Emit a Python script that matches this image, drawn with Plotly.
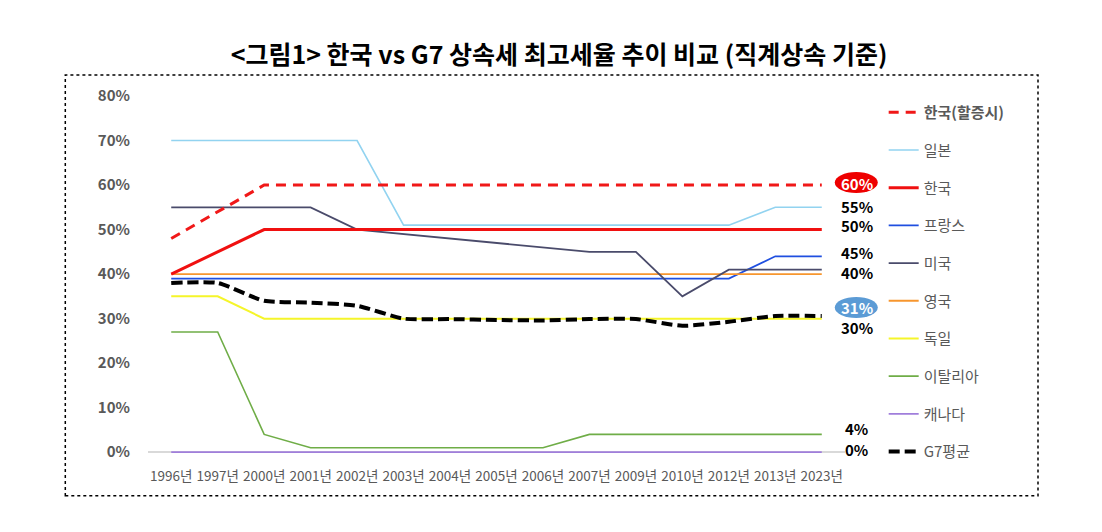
import plotly.graph_objects as go

years = ["1996년", "1997년", "2000년", "2001년", "2002년", "2003년", "2004년", "2005년",
         "2006년", "2007년", "2009년", "2010년", "2012년", "2013년", "2023년"]

korea_surcharge = [48, 54, 60, 60, 60, 60, 60, 60, 60, 60, 60, 60, 60, 60, 60]
japan = [70, 70, 70, 70, 70, 51, 51, 51, 51, 51, 51, 51, 51, 55, 55]
korea = [40, 45, 50, 50, 50, 50, 50, 50, 50, 50, 50, 50, 50, 50, 50]
france = [39, 39, 39, 39, 39, 39, 39, 39, 39, 39, 39, 39, 39, 44, 44]
usa = [55, 55, 55, 55, 50, 49, 48, 47, 46, 45, 45, 35, 41, 41, 41]
uk = [40, 40, 40, 40, 40, 40, 40, 40, 40, 40, 40, 40, 40, 40, 40]
germany = [35, 35, 30, 30, 30, 30, 30, 30, 30, 30, 30, 30, 30, 30, 30]
italy = [27, 27, 4, 1, 1, 1, 1, 1, 1, 4, 4, 4, 4, 4, 4]
canada = [0, 0, 0, 0, 0, 0, 0, 0, 0, 0, 0, 0, 0, 0, 0]
g7_avg = [38.0, 38.0, 34.0, 33.6, 32.9, 30.0, 29.9, 29.7, 29.6, 29.9, 29.9, 28.4, 29.3, 30.6, 30.6]

y_tick_vals = [0, 10, 20, 30, 40, 50, 60, 70, 80]
y_tick_text = ["0%", "10%", "20%", "30%", "40%", "50%", "60%", "70%", "80%"]

end_labels = ["60%", "55%", "50%", "45%", "40%", "31%", "30%", "4%", "0%"]

FONT = "Noto Sans CJK KR"
GRAY = "#595959"

# plot-area geometry (figure pixels)
ML, MR, MT, MB = 140, 265, 88, 86
W, H = 1102, 532
PW, PH = W - ML - MR, H - MT - MB
Y0, Y1 = -0.4, 80


def py(v):
    """paper y of a data value"""
    return (v - Y0) / (Y1 - Y0)


fig = go.Figure()

series = [
    # name, data, color, width, dash, shape, rank
    ("일본", japan, "#92D3F0", 1.6, "solid", "linear", 2),
    ("프랑스", france, "#1F4FE0", 1.8, "solid", "linear", 4),
    ("영국", uk, "#F7962E", 1.8, "solid", "linear", 6),
    ("미국", usa, "#4A4B6B", 1.8, "solid", "linear", 5),
    ("독일", germany, "#F5F52A", 2.0, "solid", "linear", 7),
    ("이탈리아", italy, "#6FAD47", 1.6, "solid", "linear", 8),
    ("캐나다", canada, "#A07EDB", 1.8, "solid", "linear", 9),
    ("한국", korea, "#F01010", 3.0, "solid", "linear", 3),
    ("<b>한국(할증시)</b>", korea_surcharge, "#F01818", 3.0, "10px,7px", "linear", 1),
    ("G7평균", g7_avg, "#000000", 4.0, "11px,5px", "spline", 10),
]

for name, data, color, width, dash, shape, rank in series:
    fig.add_trace(go.Scatter(
        x=years, y=data, mode="lines", name=name,
        line=dict(color=color, width=width, dash=dash, shape=shape,
                  smoothing=0.6 if shape == "spline" else None),
        legendrank=rank, legendgroup=name,
        hoverinfo="skip",
    ))

# end-of-line value labels, anchored at each series' final value
label_anchor = [korea_surcharge, japan, korea, france, uk, g7_avg, germany, italy, canada]
label_shift = [2, 1, 4, 4, 2, 8, -9, 6, 3]
last_x_paper = (len(years) - 1 + 0.5) / len(years)
for txt, arr, ys in zip(end_labels, label_anchor, label_shift):
    boxed = txt in ("60%", "31%")
    fig.add_annotation(
        x=years[-1], y=arr[-1], xref="x", yref="y", text=f"<b>{txt}</b>",
        showarrow=False, xshift=35, yshift=ys,
        font=dict(family=FONT, size=15, color="white" if boxed else "black"),
        xanchor="center", yanchor="middle",
    )
    if boxed:
        fig.add_shape(
            type="circle", xref="paper", yref="paper",
            xsizemode="pixel", ysizemode="pixel",
            xanchor=last_x_paper, yanchor=py(arr[-1]),
            x0=13, x1=56, y0=ys - 10, y1=ys + 11,
            fillcolor="#EE0000" if txt == "60%" else "#5B9BD5",
            line=dict(width=0), layer="below",
        )

# dotted border around chart
fig.add_shape(type="rect", xref="paper", yref="paper",
              x0=(57.3 - ML) / PW, x1=(1030 - ML) / PW,
              y0=(H - MB - 487.7) / PH, y1=(H - MB - 67) / PH,
              line=dict(color="black", width=1.5, dash="dot"))

fig.update_layout(
    width=W, height=H,
    margin=dict(l=ML, r=MR, t=MT, b=MB),
    paper_bgcolor="white", plot_bgcolor="white",
    font=dict(family=FONT, color=GRAY),
    title=dict(
        text="<b><그림1> 한국 vs G7 상속세 최고세율 추이 비교 (직계상속 기준)</b>",
        x=0.5, xanchor="center", xref="container",
        y=1 - 47 / H, yanchor="middle", yref="container",
        font=dict(family=FONT, size=25, color="black"),
    ),
    showlegend=True,
    legend=dict(
        x=1.0555, xanchor="left", y=1.0, yanchor="top",
        traceorder="grouped", tracegroupgap=15.2, maxheight=500,
        font=dict(family=FONT, size=15, color=GRAY),
        bgcolor="rgba(0,0,0,0)",
    ),
    xaxis=dict(
        type="category", range=[-0.5, len(years) - 0.5],
        showgrid=False, showline=False, zeroline=False,
        ticks="", tickfont=dict(family=FONT, size=13.5, color=GRAY),
        ticklabelstandoff=12, fixedrange=True,
    ),
    yaxis=dict(
        range=[Y0, Y1], tickvals=y_tick_vals, ticktext=y_tick_text,
        showgrid=False, showline=False,
        zeroline=True, zerolinecolor="#D9D9D9", zerolinewidth=1.5,
        ticks="", tickfont=dict(family=FONT, size=15, color=GRAY, weight="bold"),
        ticklabelstandoff=17, fixedrange=True,
    ),
)

fig.write_html("out.html")
